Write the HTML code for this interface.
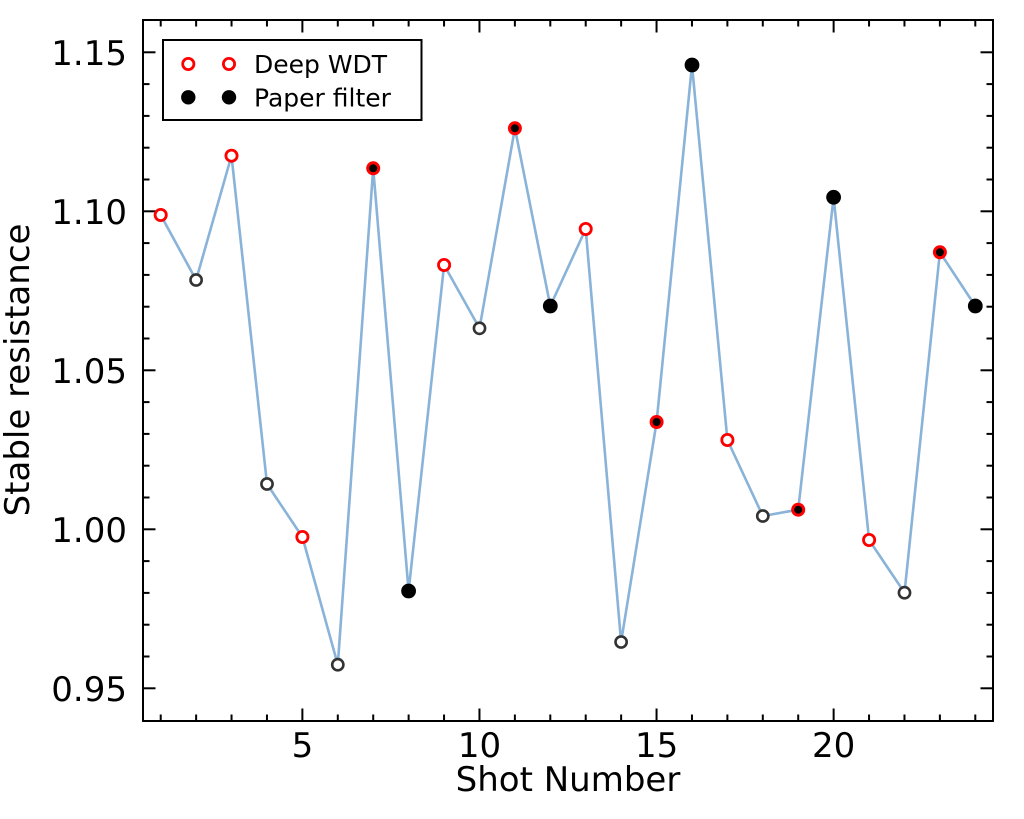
<!DOCTYPE html>
<html>
<head>
<meta charset="utf-8">
<style>
html,body{margin:0;padding:0;background:#fff;}
svg{display:block;}
text{font-family:"DejaVu Sans","Liberation Sans",sans-serif;fill:#000;}
</style>
</head>
<body>
<svg width="1024" height="819" viewBox="0 0 1024 819" xmlns="http://www.w3.org/2000/svg">
<rect x="0" y="0" width="1024" height="819" fill="#fff"/>
<g id="ticks" stroke="#000" stroke-width="2"></g>
<polyline fill="none" stroke="#89b3d9" stroke-width="2.6" stroke-linejoin="round" points="160.7,215 196.1,280 231.5,155.7 267,484 302.4,537 337.8,664.7 373.2,168.3 408.6,591 444.1,265 479.5,328.3 514.9,128.3 550.3,306 585.7,229 621.1,642 656.6,422 692,65 727.4,440 762.8,516 798.2,509.7 833.6,197.3 869.1,540 904.5,592.7 939.9,252.3 975.3,306"/>
<!-- gray open -->
<g fill="#fff" stroke="#333" stroke-width="2.6">
<circle cx="196.1" cy="280" r="5.6"/>
<circle cx="267" cy="484" r="5.6"/>
<circle cx="337.8" cy="664.7" r="5.6"/>
<circle cx="479.5" cy="328.3" r="5.6"/>
<circle cx="621.1" cy="642" r="5.6"/>
<circle cx="762.8" cy="516" r="5.6"/>
<circle cx="904.5" cy="592.7" r="5.6"/>
</g>
<!-- red open -->
<g fill="#fff" stroke="#ff0000" stroke-width="2.8">
<circle cx="160.7" cy="215" r="5.6"/>
<circle cx="231.5" cy="155.7" r="5.6"/>
<circle cx="302.4" cy="537" r="5.6"/>
<circle cx="444.1" cy="265" r="5.6"/>
<circle cx="585.7" cy="229" r="5.6"/>
<circle cx="727.4" cy="440" r="5.6"/>
<circle cx="869.1" cy="540" r="5.6"/>
</g>
<!-- black filled -->
<g fill="#000">
<circle cx="408.6" cy="591" r="7.4"/>
<circle cx="550.3" cy="306" r="7.4"/>
<circle cx="692" cy="65" r="7.4"/>
<circle cx="833.6" cy="197.3" r="7.4"/>
<circle cx="975.3" cy="306" r="7.4"/>
</g>
<!-- red + black -->
<g fill="#000" stroke="#ff0000" stroke-width="3">
<circle cx="373.2" cy="168.3" r="5.5"/>
<circle cx="514.9" cy="128.3" r="5.5"/>
<circle cx="656.6" cy="422" r="5.5"/>
<circle cx="798.2" cy="509.7" r="5.5"/>
<circle cx="939.9" cy="252.3" r="5.5"/>
</g>
<!-- frame -->
<rect x="143" y="20" width="850" height="701" fill="none" stroke="#000" stroke-width="2"/>
<!-- legend -->
<rect x="163" y="40" width="258.5" height="80" fill="#fff" stroke="#000" stroke-width="2"/>
<g fill="#fff" stroke="#ff0000" stroke-width="2.8">
<circle cx="188.3" cy="64" r="5.6"/>
<circle cx="229" cy="64" r="5.6"/>
</g>
<g fill="#000">
<circle cx="188.3" cy="97.3" r="7.2"/>
<circle cx="229" cy="97.3" r="7.2"/>
</g>
<text x="254" y="73" font-size="25">Deep WDT</text>
<text x="254" y="106.5" font-size="25">Paper filter</text>
<!-- y tick labels -->
<g font-size="34" text-anchor="end">
<text x="127" y="64.8">1.15</text>
<text x="127" y="223.8">1.10</text>
<text x="127" y="382.8">1.05</text>
<text x="127" y="541.8">1.00</text>
<text x="127" y="700.8">0.95</text>
</g>
<!-- x tick labels -->
<g font-size="34" text-anchor="middle">
<text x="302.4" y="757">5</text>
<text x="479.5" y="757">10</text>
<text x="656.6" y="757">15</text>
<text x="833.6" y="757">20</text>
</g>
<text x="568" y="791" font-size="34" text-anchor="middle">Shot Number</text>
<text transform="translate(29,370) rotate(-90)" font-size="34" text-anchor="middle">Stable resistance</text>
</svg>
<script>
(function(){
var g=document.getElementById('ticks');
var ns='http://www.w3.org/2000/svg';
function ln(x1,y1,x2,y2){var l=document.createElementNS(ns,'line');l.setAttribute('x1',x1);l.setAttribute('y1',y1);l.setAttribute('x2',x2);l.setAttribute('y2',y2);g.appendChild(l);}
var L=143,R=993,T=20,B=721;
for(var v=1;v<=24;v++){
 var x=L+(v-0.5)*35.417;
 var len=(v%5===0)?12.5:6.5;
 ln(x,B,x,B-len);ln(x,T,x,T+len);
}
for(var i=95;i<=115;i++){
 var y=211.3+(1.10-i/100)*3180;
 var len=(i%5===0)?12.5:6.5;
 ln(L,y,L+len,y);ln(R,y,R-len,y);
}
})();
</script>
</body>
</html>
